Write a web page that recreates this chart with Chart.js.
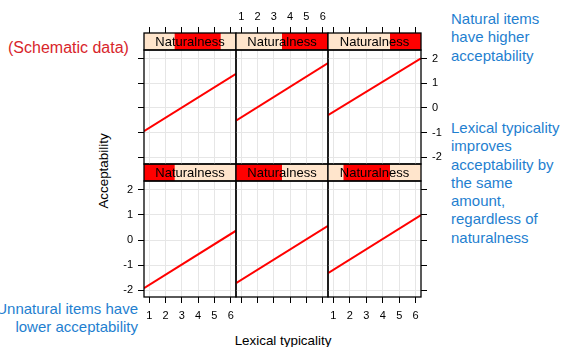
<!DOCTYPE html>
<html>
<head>
<meta charset="utf-8">
<script src="https://cdn.jsdelivr.net/npm/chart.js@4/dist/chart.umd.min.js"></script>
<style>
  html, body { margin: 0; padding: 0; background: #fff; }
  #wrap { position: relative; width: 562px; height: 347px; overflow: hidden;
          font-family: "Liberation Sans", Arial, sans-serif; }
  #wrap canvas { position: absolute; left: 0; top: 0; }
  .note { position: absolute; font-size: 15px; line-height: 18.3px; color: #1f7fd0; white-space: nowrap; }
  .red { color: #d8252b; font-size: 16px; }
  .axis-title { position: absolute; font-size: 13.4px; color: #000; white-space: nowrap; }
</style>
</head>
<body>
<div id="wrap">
  <div class="note red" style="left:8px; top:39px;">(Schematic data)</div>
  <div class="note" style="left:451px; top:10px;">Natural items<br>have higher<br>acceptability</div>
  <div class="note" style="left:451px; top:119px;">Lexical typicality<br>improves<br>acceptability by<br>the same<br>amount,<br>regardless of<br>naturalness</div>
  <div class="note" style="right:424px; top:300px; text-align:right;">Unnatural items have<br>lower acceptability</div>
  <div class="axis-title" style="left:103px; top:171px; transform:translate(-50%,-50%) rotate(-90deg);">Acceptability</div>
  <div class="axis-title" style="left:283px; top:340px; transform:translate(-50%,-50%);">Lexical typicality</div>
</div>
<script>
// Lexical typicality axis (x) and acceptability axis (y)
const typicalityTicks = [1, 2, 3, 4, 5, 6];
const typicalityRange = [0.675, 6.325];
const acceptabilityTicks = [-2, -1, 0, 1, 2];
const acceptabilityRange = [-2.27, 2.35];

// Naturalness shingle: overall range and the interval covered by each panel
const naturalnessRange = [1, 7];
const naturalnessShingles = [[1, 3], [1, 4], [2, 5], [3, 6], [4, 7], [5, 7]];

// Fitted acceptability at the left and right edge of each panel (panel order: bottom row first)
const acceptabilityAtLeft  = [-1.92, -1.72, -1.32, -0.94, -0.51, -0.29];
const acceptabilityAtRight = [ 0.37,  0.56,  0.99,  1.38,  1.82,  2.01];

const stripLabel = 'Naturalness';

// Layout of the 3 x 2 panel grid
const W = 562, H = 347;
const colEdges = [144, 236, 328, 421];
const rowSpans = [[181, 297], [50, 164]];   // index 0 = bottom row
const stripHeight = 17;
// room reserved for each axis box (labels are clipped to it)
const axisRoom = { bottom: 30, left: 40, top: 48, right: 40 };

const tickFont = { family: 'Liberation Sans', size: 11 };
const gridColor = '#e6e6e6';

const boxSize = n => s => { if (s.isHorizontal()) s.height = n; else s.width = n; };
const fixedTicks = values => s => { s.ticks = values.map(v => ({ value: v })); };

function panelScales(row, col) {
  const bottomRow = row === 0, topRow = row === 1;
  const scales = {
    x: {
      type: 'linear', position: 'bottom',
      min: typicalityRange[0], max: typicalityRange[1],
      afterBuildTicks: fixedTicks(typicalityTicks), afterFit: boxSize(axisRoom.bottom),
      border: { display: false },
      grid: { color: gridColor, drawTicks: bottomRow, tickLength: 6, tickColor: '#000', tickWidth: 1 },
      ticks: { display: bottomRow && col !== 1, font: tickFont, color: '#000', padding: 6,
               maxRotation: 0, autoSkip: false }
    },
    y: {
      type: 'linear', position: 'left',
      min: acceptabilityRange[0], max: acceptabilityRange[1],
      afterBuildTicks: fixedTicks(acceptabilityTicks), afterFit: boxSize(axisRoom.left),
      border: { display: false },
      grid: { color: gridColor, drawTicks: col === 0, tickLength: 6, tickColor: '#000', tickWidth: 1 },
      ticks: { display: bottomRow && col === 0, font: tickFont, color: '#000', padding: 5 }
    },
    nat: {
      type: 'linear', axis: 'x', position: 'bottom', display: false,
      min: naturalnessRange[0], max: naturalnessRange[1], afterFit: boxSize(0)
    }
  };
  if (topRow) {
    // tick marks reach above the strip; the strip covers their inner part
    scales.xTop = {
      type: 'linear', axis: 'x', position: 'top',
      min: typicalityRange[0], max: typicalityRange[1],
      afterBuildTicks: fixedTicks(typicalityTicks), afterFit: boxSize(axisRoom.top),
      border: { display: false },
      grid: { drawOnChartArea: false, drawTicks: true, tickLength: stripHeight + 6, tickColor: '#000', tickWidth: 1 },
      ticks: { display: col === 1, font: tickFont, color: '#000', padding: 3, maxRotation: 0, autoSkip: false }
    };
  }
  if (col === 2) {
    scales.yRight = {
      type: 'linear', axis: 'y', position: 'right',
      min: acceptabilityRange[0], max: acceptabilityRange[1],
      afterBuildTicks: fixedTicks(acceptabilityTicks), afterFit: boxSize(axisRoom.right),
      border: { display: false },
      grid: { drawOnChartArea: false, drawTicks: true, tickLength: 6, tickColor: '#000', tickWidth: 1 },
      ticks: { display: topRow, font: tickFont, color: '#000', padding: 5 }
    };
  }
  return scales;
}

function panelPadding(row, col) {
  const [rTop, rBottom] = rowSpans[row];
  return {
    left: colEdges[col] - axisRoom.left,
    right: W - colEdges[col + 1] - (col === 2 ? axisRoom.right : 0),
    top: rTop - (row === 1 ? axisRoom.top : 0),
    bottom: H - rBottom - axisRoom.bottom
  };
}

// Panel frame plus the shingle strip above each panel
const stripPlugin = {
  id: 'strip',
  afterDraw(chart, args, opts) {
    const { ctx, chartArea: a } = chart;
    const nat = chart.scales.nat;
    const [lo, hi] = opts.shingle;
    const top = a.top - stripHeight;
    ctx.save();
    ctx.fillStyle = '#ffe5cc';
    ctx.fillRect(a.left, top, a.right - a.left, stripHeight);
    const x0 = nat.getPixelForValue(lo), x1 = nat.getPixelForValue(hi);
    ctx.fillStyle = '#ff0000';
    ctx.fillRect(x0, top, x1 - x0, stripHeight);
    ctx.strokeStyle = '#000';
    ctx.lineWidth = 1.3;
    ctx.strokeRect(a.left, top, a.right - a.left, stripHeight);
    ctx.strokeRect(a.left, a.top, a.right - a.left, a.bottom - a.top);
    ctx.fillStyle = '#000';
    ctx.font = '13px "Liberation Sans", Arial, sans-serif';
    ctx.textAlign = 'center';
    ctx.textBaseline = 'middle';
    ctx.fillText(stripLabel, (a.left + a.right) / 2, top + stripHeight / 2 + 1);
    ctx.restore();
  }
};

const wrap = document.getElementById('wrap');
for (let i = 0; i < 6; i++) {
  const row = Math.floor(i / 3), col = i % 3;
  const canvas = document.createElement('canvas');
  canvas.width = W; canvas.height = H;
  wrap.appendChild(canvas);
  new Chart(canvas, {
    type: 'line',
    data: {
      datasets: [{
        data: [
          { x: typicalityRange[0], y: acceptabilityAtLeft[i] },
          { x: typicalityRange[1], y: acceptabilityAtRight[i] }
        ],
        xAxisID: 'x', yAxisID: 'y',
        borderColor: '#ff0000', borderWidth: 2, pointRadius: 0, fill: false, tension: 0
      }]
    },
    options: {
      responsive: false, animation: false, events: [],
      layout: { padding: panelPadding(row, col) },
      plugins: { legend: { display: false }, tooltip: { enabled: false }, strip: { shingle: naturalnessShingles[i] } },
      scales: panelScales(row, col)
    },
    plugins: [stripPlugin]
  });
}
</script>
</body>
</html>
